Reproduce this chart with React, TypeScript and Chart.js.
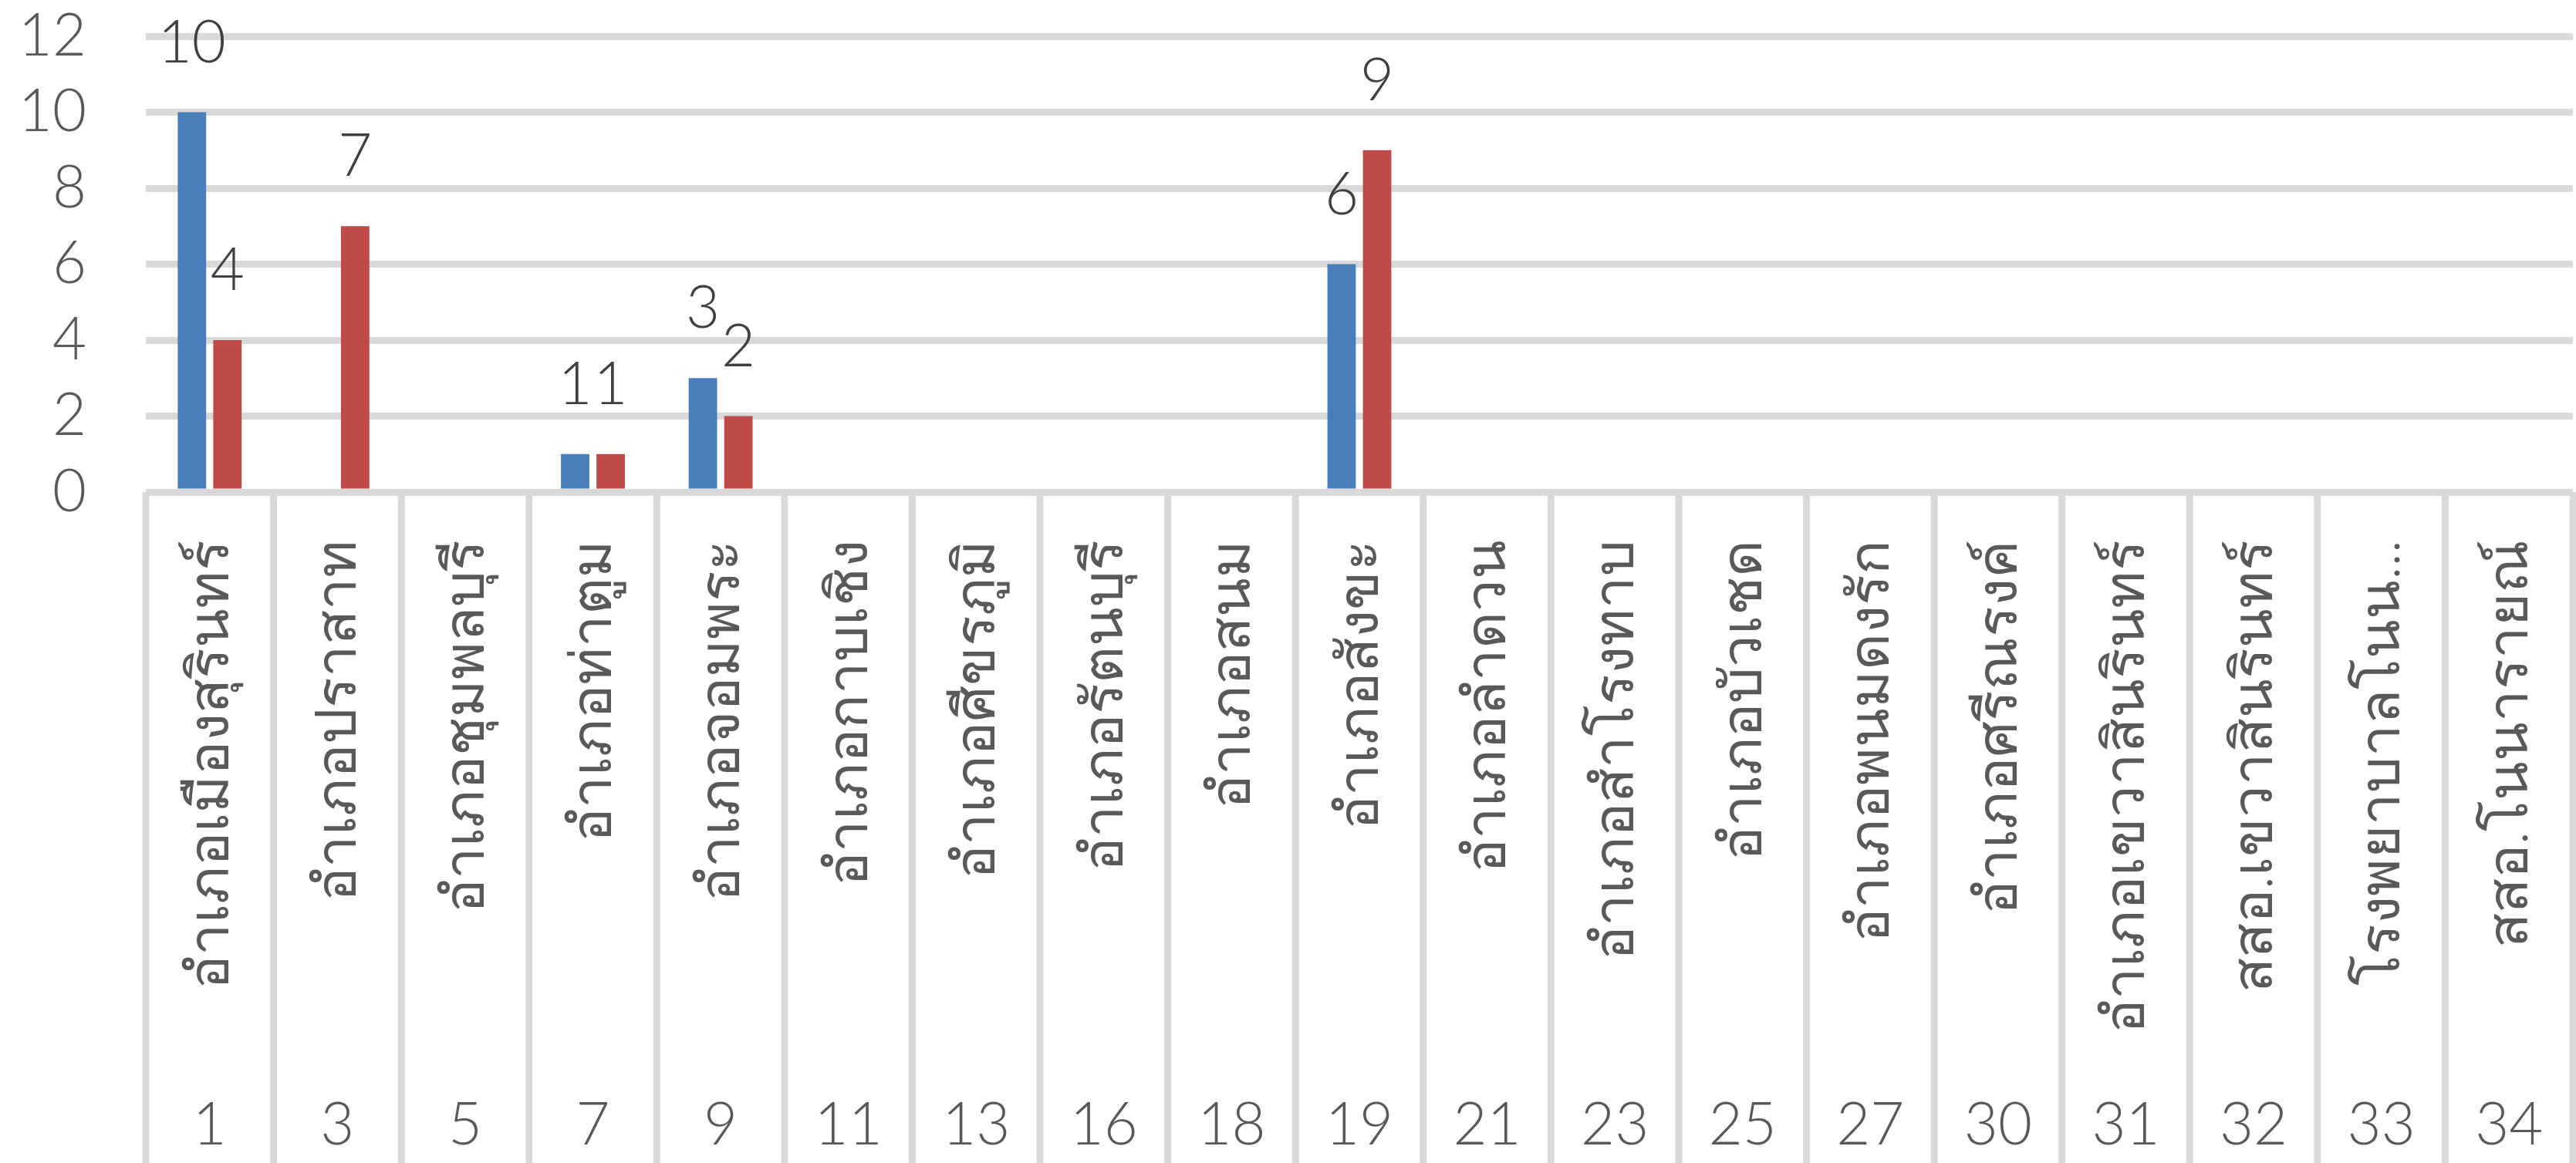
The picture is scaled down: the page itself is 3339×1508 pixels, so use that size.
import React, { useEffect, useRef } from "react";
import { Chart, registerables } from "chart.js";

Chart.register(...registerables);

const groupLabels = ["1", "3", "5", "7", "9", "11", "13", "16", "18", "19", "21", "23", "25", "27", "30", "31", "32", "33", "34"];
const districtLabels = [
  "อำเภอเมืองสุรินทร์",
  "อำเภอปราสาท",
  "อำเภอชุมพลบุรี",
  "อำเภอท่าตูม",
  "อำเภอจอมพระ",
  "อำเภอกาบเชิง",
  "อำเภอศีขรภูมิ",
  "อำเภอรัตนบุรี",
  "อำเภอสนม",
  "อำเภอสังขะ",
  "อำเภอลำดวน",
  "อำเภอสำโรงทาบ",
  "อำเภอบัวเชด",
  "อำเภอพนมดงรัก",
  "อำเภอศรีณรงค์",
  "อำเภอเขวาสินรินทร์",
  "สสอ.เขวาสินรินทร์",
  "โรงพยาบาลโนน...",
  "สสอ.โนนารายณ์",
];
const seriesBlue = [10, null, null, 1, 3, null, null, null, null, 6, null, null, null, null, null, null, null, null, null];
const seriesRed = [4, 7, null, 1, 2, null, null, null, null, 9, null, null, null, null, null, null, null, null, null];
const yMin = 0;
const yMax = 12;
const yStep = 2;

const FONT = 'Lato, "Noto Sans", sans-serif';
const FS = 76;
const GRID = "#D9D9D9";

const separatorPlugin = {
  id: "separators",
  afterDraw(chart: any) {
    const xs = chart.scales.x;
    const ctx = chart.ctx;
    const n = xs.ticks.length;
    const w = (xs.right - xs.left) / n;
    ctx.save();
    ctx.strokeStyle = GRID;
    ctx.lineWidth = 9;
    for (let i = 0; i <= n; i++) {
      const x = xs.left + i * w;
      ctx.beginPath();
      ctx.moveTo(x, chart.chartArea.bottom);
      ctx.lineTo(x, chart.height);
      ctx.stroke();
    }
    ctx.restore();
  },
};

const dataLabelPlugin = {
  id: "dataLabels",
  afterDatasetsDraw(chart: any) {
    const ctx = chart.ctx;
    ctx.save();
    ctx.font = `300 ${FS}px ${FONT}`;
    ctx.fillStyle = "#404040";
    ctx.textAlign = "center";
    ctx.textBaseline = "alphabetic";
    chart.data.datasets.forEach((ds: any, di: number) => {
      const meta = chart.getDatasetMeta(di);
      meta.data.forEach((bar: any, i: number) => {
        const v = ds.data[i];
        if (v === null || v === undefined) return;
        ctx.fillText(String(v), bar.x, bar.y - 65);
      });
    });
    ctx.restore();
  },
};

export default function App() {
  const ref = useRef<HTMLCanvasElement | null>(null);
  useEffect(() => {
    if (!ref.current) return;
    const chart = new Chart(ref.current, {
      type: "bar",
      data: {
        labels: districtLabels,
        datasets: [
          {
            label: "A",
            data: seriesBlue,
            backgroundColor: "#4A7EBB",
            categoryPercentage: 0.556,
            barPercentage: 0.8,
            xAxisID: "x",
          },
          {
            label: "B",
            data: seriesRed,
            backgroundColor: "#BE4B48",
            categoryPercentage: 0.556,
            barPercentage: 0.8,
            xAxisID: "x",
          },
        ],
      },
      options: {
        animation: false,
        responsive: false,
        maintainAspectRatio: false,
        devicePixelRatio: 1,
        layout: { padding: { top: 47, right: 4, left: 0, bottom: 0 } },
        plugins: { legend: { display: false }, tooltip: { enabled: false } },
        scales: {
          y: {
            min: yMin,
            max: yMax,
            ticks: {
              stepSize: yStep,
              autoSkip: false,
              padding: 77,
              color: "#595959",
              font: { family: FONT, size: FS, weight: "300" },
            },
            grid: { color: GRID, lineWidth: 9, drawTicks: false },
            border: { display: false },
            afterFit(scale: any) {
              scale.width = 189;
              scale.paddingTop = 0;
              scale.paddingBottom = 0;
            },
          },
          x: {
            type: "category",
            position: "bottom",
            offset: true,
            ticks: {
              autoSkip: false,
              minRotation: 90,
              maxRotation: 90,
              padding: 54,
              color: "#595959",
              font: { family: FONT, size: 74, weight: "300" },
            },
            grid: { display: false },
            border: { display: false },
            afterFit(scale: any) {
              scale.height = 762;
              scale.paddingLeft = 0;
              scale.paddingRight = 0;
            },
          },
          x2: {
            type: "category",
            position: "bottom",
            offset: true,
            labels: groupLabels,
            ticks: {
              autoSkip: false,
              minRotation: 0,
              maxRotation: 0,
              padding: 6,
              color: "#595959",
              font: { family: FONT, size: FS, weight: "300" },
            },
            grid: { display: false },
            border: { display: false },
            afterFit(scale: any) {
              scale.height = 108;
              scale.paddingLeft = 0;
              scale.paddingRight = 0;
            },
          },
        },
      },
      plugins: [separatorPlugin, dataLabelPlugin],
    });
    return () => chart.destroy();
  }, []);
  return (
    <div style={{ position: "fixed", left: 0, top: 0, width: 3339, height: 1508, background: "#fff" }}>
      <canvas ref={ref} width={3339} height={1508} style={{ width: 3339, height: 1508, display: "block" }} />
    </div>
  );
}
